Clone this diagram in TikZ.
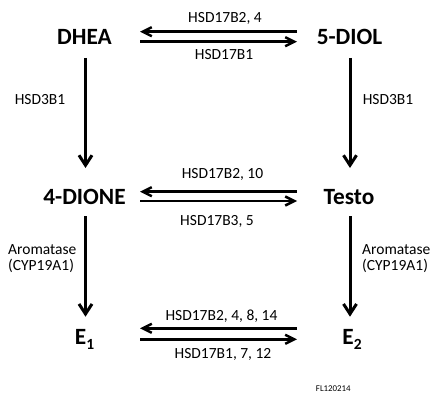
\documentclass[tikz,border=0pt]{standalone}
\usepackage{fontspec}
\setmainfont{Carlito}
\usetikzlibrary{arrows.meta}
\tikzset{
  chem/.style={font=\fontsize{23.3}{28}\selectfont\bfseries, inner sep=0pt,
    text height=15pt, text depth=0pt, anchor=center},
  enz/.style={font=\fontsize{15.5}{18}\selectfont, inner sep=0pt,
    text height=10pt, text depth=0pt, anchor=center},
  enzl/.style={font=\fontsize{15.5}{16}\selectfont, inner sep=0pt, align=left, anchor=base west},
  varr/.style={line width=3pt, -{Straight Barb[length=10pt,width=13pt]}},
  harr/.style={line width=2.5pt, -{Straight Barb[length=9pt,width=9pt]}},
  tag/.style={font=\fontsize{8.85}{10}\selectfont, inner sep=0pt,
    text height=5.7pt, text depth=0pt, anchor=center}
}
\newcommand{\subidx}[1]{\raisebox{-5.3pt}{\fontsize{15.5}{15.5}\selectfont #1}}
\begin{document}
\begin{tikzpicture}[x=1pt,y=-1pt]
\useasboundingbox (0,0) rectangle (431,393);
% steroids
\node[chem] (dhea)  at (84.5,37.5)  {DHEA};
\node[chem] (diol)  at (349.5,37.5) {5-DIOL};
\node[chem] (dione) at (84.5,196.7) {4-DIONE};
\node[chem] (testo) at (349,196.7)  {Testo};
\node[chem] (e1)    at (84.5,336.7) {E\subidx{1}};
\node[chem] (e2)    at (352,336.7)  {E\subidx{2}};
% 17beta-HSD conversions, one pair of arrows per row
\draw[harr] ([xshift=212.5pt,yshift=5.8pt]dhea.center) -- ([xshift=55.5pt,yshift=5.8pt]dhea.center);
\draw[harr] ([xshift=55.5pt,yshift=-4.2pt]dhea.center) -- ([xshift=212.5pt,yshift=-4.2pt]dhea.center);
\node[enz] (l1a) at (225,18) {HSD17B2, 4};
\node[enz] (l1b) at (224,55) {HSD17B1};
\draw[harr] ([xshift=212.5pt,yshift=5pt]dione.center) -- ([xshift=55.5pt,yshift=5pt]dione.center);
\draw[harr] ([xshift=55.5pt,yshift=-4.3pt]dione.center) -- ([xshift=212.5pt,yshift=-4.3pt]dione.center);
\node[enz] (l2a) at (222.5,173.3) {HSD17B2, 10};
\node[enz] (l2b) at (217,220) {HSD17B3, 5};
\draw[harr] ([xshift=212.5pt,yshift=8.4pt]e1.center) -- ([xshift=55.5pt,yshift=8.4pt]e1.center);
\draw[harr] ([xshift=55.5pt,yshift=-2.6pt]e1.center) -- ([xshift=212.5pt,yshift=-2.6pt]e1.center);
\node[enz] (l3a) at (221.5,315) {HSD17B2, 4, 8, 14};
\node[enz] (l3b) at (223,353) {HSD17B1, 7, 12};
% 3beta-HSD and aromatase steps
\draw[varr] ([xshift=1pt,yshift=-20.5pt]dhea.center) -- ([xshift=1pt,yshift=28.7pt]dione.center);
\draw[varr] ([xshift=0.5pt,yshift=-20.5pt]diol.center) -- ([xshift=1pt,yshift=28.7pt]testo.center);
\draw[varr] ([xshift=1pt,yshift=-19.3pt]dione.center) -- ([xshift=1pt,yshift=20pt]e1.center);
\draw[varr] ([xshift=1pt,yshift=-19.3pt]testo.center) -- ([xshift=-2pt,yshift=20pt]e2.center);
\node[enz] (l4a) at (40,100) {HSD3B1};
\node[enz] (l4b) at (388,100) {HSD3B1};
% two-line labels: the base anchor sits on the last line
\node[enzl] (l5a) at (8,270) {Aromatase\\(CYP19A1)};
\node[enzl] (l5b) at (362,270) {Aromatase\\(CYP19A1)};
\node[tag] (fig) at (333.3,388.3) {FL120214};
\end{tikzpicture}
\end{document}
